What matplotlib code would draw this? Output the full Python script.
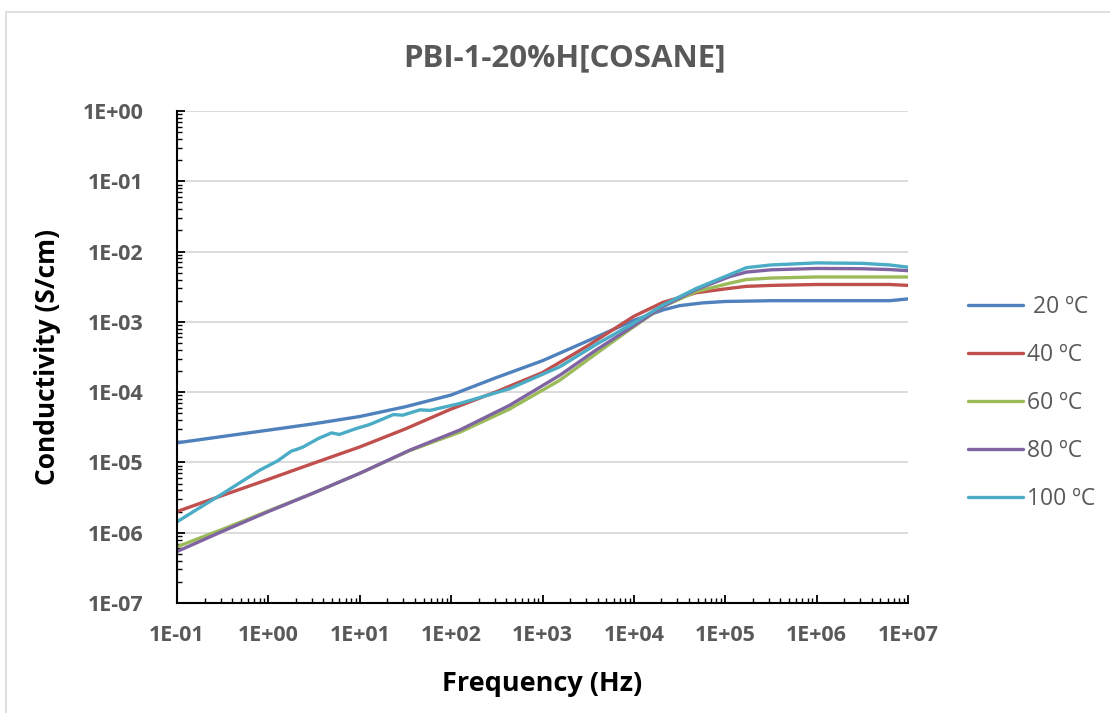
import matplotlib
matplotlib.use("Agg")
import matplotlib.pyplot as plt
from matplotlib.patches import Rectangle
from matplotlib.ticker import LogLocator, NullFormatter, FixedLocator

# Frecuencias (Hz) y conductividades (S/cm)
freq_20 = [0.1, 0.316, 1, 3.16, 10, 31.6, 100, 316, 1000, 3160, 1e4, 2.09e4, 3.16e4,
           5.62e4, 1e5, 3.16e5, 1e6, 3.16e6, 6.3e6, 1e7]
cond_20 = [1.9e-5, 2.34e-5, 2.88e-5, 3.55e-5, 4.5e-5, 6.2e-5, 9.1e-5, 1.62e-4, 2.8e-4,
           5.4e-4, 1.05e-3, 1.48e-3, 1.7e-3, 1.86e-3, 1.95e-3, 2.0e-3, 2.0e-3, 2.0e-3,
           2.0e-3, 2.12e-3]

freq_40 = [0.1, 0.316, 1, 3.16, 10, 31.6, 100, 316, 1000, 3160, 1e4, 2.09e4, 4.85e4,
           1.12e5, 1.7e5, 3.16e5, 1e6, 3.16e6, 6.3e6, 1e7]
cond_40 = [2.0e-6, 3.4e-6, 5.75e-6, 9.8e-6, 1.66e-5, 3.0e-5, 5.75e-5, 1.02e-4, 1.9e-4,
           4.6e-4, 1.2e-3, 1.9e-3, 2.6e-3, 3.0e-3, 3.2e-3, 3.3e-3, 3.4e-3, 3.4e-3,
           3.4e-3, 3.3e-3]

freq_60 = [0.1, 0.316, 1, 3.16, 10, 35.5, 125, 437, 1550, 3890, 9040, 2.09e4, 4.85e4,
           1.12e5, 1.7e5, 3.16e5, 1e6, 3.16e6, 6.3e6, 1e7]
cond_60 = [6.3e-7, 1.12e-6, 2.04e-6, 3.7e-6, 7.0e-6, 1.48e-5, 2.7e-5, 5.75e-5, 1.48e-4,
           3.55e-4, 7.8e-4, 1.66e-3, 2.7e-3, 3.55e-3, 4.0e-3, 4.2e-3, 4.35e-3, 4.35e-3,
           4.35e-3, 4.35e-3]

freq_80 = [0.1, 0.316, 1, 3.16, 10, 35.5, 125, 437, 1550, 3890, 9040, 2.09e4, 4.85e4,
           1.12e5, 1.7e5, 3.16e5, 1e6, 3.16e6, 6.3e6, 1e7]
cond_80 = [5.4e-7, 1.05e-6, 2.0e-6, 3.7e-6, 7.0e-6, 1.5e-5, 2.9e-5, 6.5e-5, 1.74e-4,
           4.0e-4, 8.1e-4, 1.66e-3, 2.9e-3, 4.4e-3, 5.1e-3, 5.5e-3, 5.75e-3, 5.7e-3,
           5.55e-3, 5.35e-3]

freq_100 = [0.1, 0.2, 0.295, 0.5, 0.81, 1.26, 1.78, 2.04, 2.4, 3.55, 4.9, 6.0, 8.9,
            12.9, 23.4, 29.5, 45.7, 58.9, 125, 437, 1550, 3890, 9040,
            2.09e4, 4.85e4, 1.12e5, 1.7e5, 3.16e5, 1e6, 3.16e6, 6.3e6, 1e7]
cond_100 = [1.43e-6, 2.5e-6, 3.4e-6, 5.25e-6, 7.8e-6, 1.05e-5, 1.45e-5, 1.53e-5,
            1.66e-5, 2.2e-5, 2.63e-5, 2.5e-5, 3.0e-5, 3.47e-5, 4.8e-5, 4.7e-5,
            5.6e-5, 5.5e-5, 6.9e-5, 1.12e-4, 2.3e-4, 4.8e-4, 8.9e-4,
            1.74e-3, 3.0e-3, 4.7e-3, 5.9e-3, 6.45e-3, 6.9e-3, 6.8e-3,
            6.45e-3, 6.0e-3]

series = [
    (" 20 ºC", freq_20, cond_20, "#4F81BD"),
    ("40 ºC", freq_40, cond_40, "#C0504D"),
    ("60 ºC", freq_60, cond_60, "#9BBB59"),
    ("80 ºC", freq_80, cond_80, "#8064A2"),
    ("100 ºC", freq_100, cond_100, "#4BACC6"),
]

plt.rcParams["font.family"] = ["Open Sans", "DejaVu Sans"]

fig = plt.figure(figsize=(11.10, 7.13), dpi=100)
ax = fig.add_axes([177 / 1110, 1 - 603 / 713, (908 - 177) / 1110, (603 - 111) / 713])

for label, f, c, color in series:
    ax.plot(f, c, color=color, lw=2.4, label=label, solid_capstyle="round",
            solid_joinstyle="round")

ax.set_xscale("log")
ax.set_yscale("log")
ax.set_xlim(0.1, 1e7)
ax.set_ylim(1e-7, 1)

xt = [10.0 ** k for k in range(-1, 8)]
yt = [10.0 ** k for k in range(-7, 1)]
ax.xaxis.set_major_locator(FixedLocator(xt))
ax.yaxis.set_major_locator(FixedLocator(yt))
ax.set_xticklabels(["1E%+03d" % k for k in range(-1, 8)])
ax.set_yticklabels(["1E%+03d" % k for k in range(-7, 1)])
ax.xaxis.set_minor_locator(LogLocator(base=10, subs=range(2, 10), numticks=20))
ax.yaxis.set_minor_locator(LogLocator(base=10, subs=range(2, 10), numticks=20))
ax.xaxis.set_minor_formatter(NullFormatter())
ax.yaxis.set_minor_formatter(NullFormatter())

ax.tick_params(which="major", direction="in", length=6, width=1.3, color="black",
               labelsize=15.5, labelcolor="#595959")
ax.tick_params(axis="x", which="major", pad=16)
ax.tick_params(axis="y", which="major", pad=24)
ax.tick_params(which="minor", direction="in", length=3.5, width=1.0, color="black")
for t in ax.get_xticklabels() + ax.get_yticklabels():
    t.set_fontweight("bold")

ax.grid(True, which="major", axis="y", color="#D9D9D9", lw=1.3)
ax.set_axisbelow(True)
for s in ["top", "right"]:
    ax.spines[s].set_visible(False)
for s in ["left", "bottom"]:
    ax.spines[s].set_linewidth(1.5)

ax.set_xlabel("Frequency (Hz)", fontsize=19.5, fontweight="bold", color="black", labelpad=18)
ax.set_ylabel("Conductivity (S/cm)", fontsize=19, fontweight="bold", color="black", labelpad=16)

fig.text(564 / 1110, 1 - 58 / 713, "PBI-1-20%H[COSANE]", ha="center", va="center",
         fontsize=22.5, fontweight="bold", color="#595959")

leg = fig.legend(loc="center left", bbox_to_anchor=(947 / 1110, 1 - 403 / 713),
                 frameon=False, fontsize=16.5, handlelength=2.4, labelspacing=1.05,
                 handletextpad=0.2, labelcolor="#595959")

fig.patches.append(Rectangle((6 / 1110, -0.05), 1.2, (713 - 12) / 713 + 0.05,
                             transform=fig.transFigure, fill=False,
                             edgecolor="#D9D9D9", lw=1.2))

fig.savefig("out.png", dpi=100)
